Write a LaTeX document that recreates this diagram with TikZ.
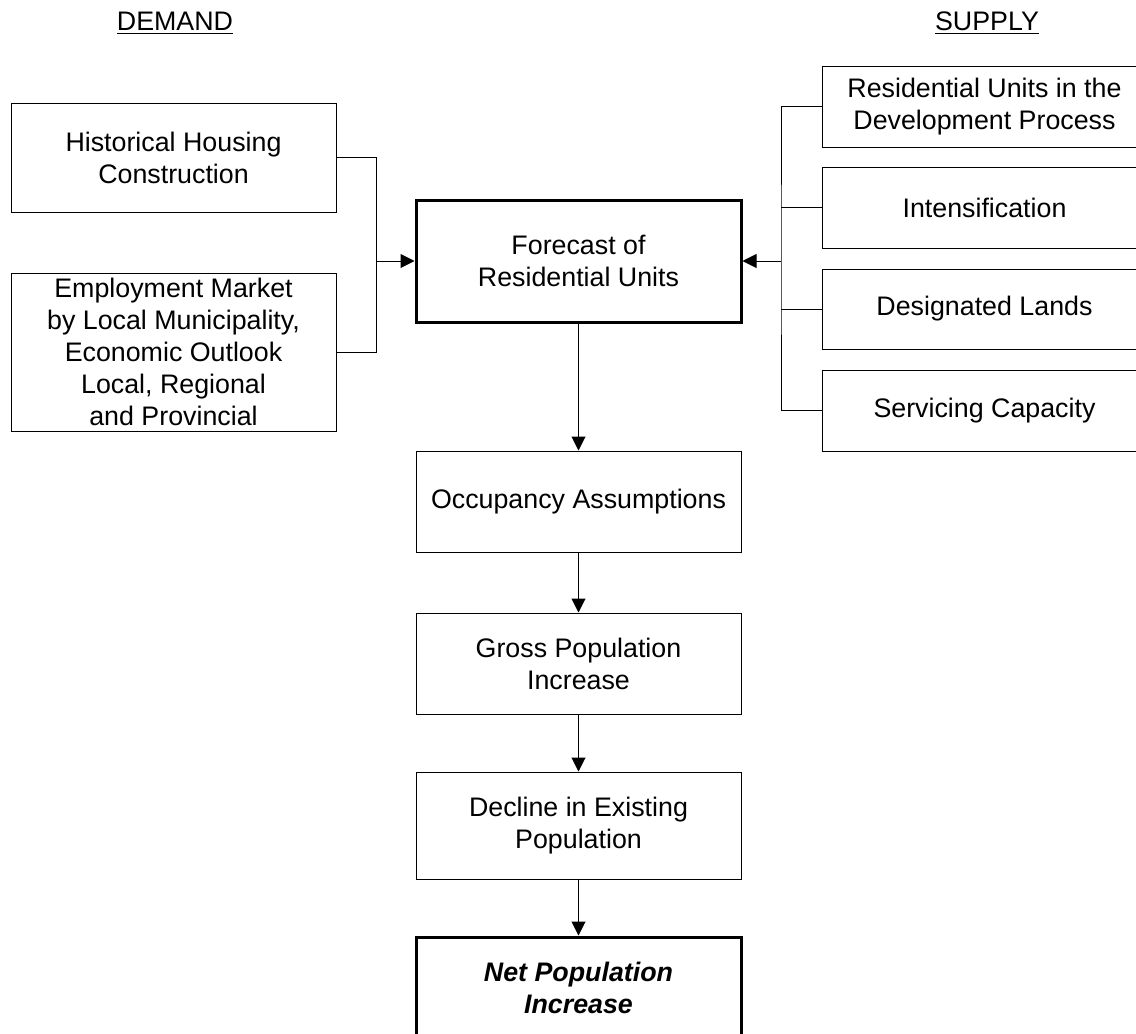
\documentclass[tikz,border=0pt]{standalone}
\usepackage{fontspec}
\setmainfont{Liberation Sans}
\usetikzlibrary{arrows.meta}
\begin{document}
\begin{tikzpicture}[x=0.5pt,y=-0.5pt,every node/.style={font=\fontsize{13.4}{16}\selectfont},
  blk/.style={draw,line width=0.5pt,align=center,inner sep=0pt,minimum width=162.5pt},
  keyblk/.style={blk,line width=1.5pt},
  link/.style={line width=0.5pt},
  feed/.style={link,-{Triangle[length=7pt,width=7pt]}}]
\useasboundingbox (0,0) rectangle (1136,1034);
\clip (0,0) rectangle (1136,1034);
\node (dem) at (175,23) {\underline{DEMAND}};
\node (sup) at (987,23) {\underline{SUPPLY}};
\node[blk,minimum height=54.5pt] (hist) at (173.5,157.5) {Historical Housing\\Construction};
\node[blk,minimum height=79pt] (emp) at (173.5,352) {Employment Market\\by Local Municipality,\\Economic Outlook\\Local, Regional\\and Provincial};
\node[keyblk,minimum height=61pt] (fcst) at (578.5,261) {Forecast of\\Residential Units};
\node[blk,minimum height=50.5pt] (occ) at (578.5,501.5) {Occupancy Assumptions};
\node[blk,minimum height=50.5pt] (gross) at (578.5,663.5) {Gross Population\\Increase};
\node[blk,minimum height=53.5pt] (decl) at (578.5,825.5) {Decline in Existing\\Population};
\node[keyblk,minimum height=51pt,font=\fontsize{13.4}{16}\selectfont\bfseries\itshape] (net) at (578.5,988) {Net Population\\Increase};
\node[blk,minimum height=40.5pt] (res) at (984.5,106.5) {Residential Units in the\\Development Process};
\node[blk,minimum height=40.5pt] (intens) at (984.5,207.5) {Intensification};
\node[blk,minimum height=40pt] (desig) at (984.5,309) {Designated Lands};
\node[blk,minimum height=40.5pt] (serv) at (984.5,410.5) {Servicing Capacity};
\coordinate (ljoin) at (376,261);
\coordinate (rjoin) at (781,261);
\draw[link] (hist.east) -| (ljoin);
\draw[link] (emp.east) -| (ljoin);
\draw[feed] (ljoin) -- (fcst.west);
\draw[link] (res.west) -| (rjoin) |- (serv.west);
\draw[link] (intens.west) -- (intens.west -| rjoin);
\draw[link] (desig.west) -- (desig.west -| rjoin);
\draw[feed] (rjoin) -- (fcst.east);
\draw[feed] (fcst) -- (occ);
\draw[feed] (occ) -- (gross);
\draw[feed] (gross) -- (decl);
\draw[feed] (decl) -- (net);
\end{tikzpicture}
\end{document}
